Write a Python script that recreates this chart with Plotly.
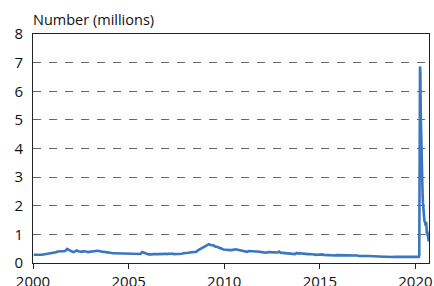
import plotly.graph_objects as go
import datetime as dt

# Initial jobless claims, monthly averages (thousands), 2000-2019
years = list(range(2000, 2020))
monthly_claims = [
    [290, 285, 280, 275, 280, 290, 300, 310, 310, 315, 330, 340],  # 2000
    [350, 360, 375, 400, 410, 400, 410, 410, 430, 490, 450, 430],  # 2001
    [400, 380, 420, 440, 410, 395, 390, 410, 410, 400, 380, 390],  # 2002
    [390, 405, 420, 440, 425, 420, 400, 395, 390, 380, 360, 360],  # 2003
    [350, 350, 340, 340, 340, 340, 335, 340, 340, 330, 330, 335],  # 2004
    [330, 315, 325, 330, 330, 330, 315, 315, 380, 355, 320, 320],  # 2005
    [300, 290, 300, 310, 320, 310, 310, 315, 315, 310, 320, 320],  # 2006
    [310, 330, 315, 330, 310, 310, 305, 320, 315, 325, 340, 340],  # 2007
    [330, 355, 370, 370, 370, 385, 390, 440, 475, 480, 520, 550],  # 2008
    [590, 640, 660, 630, 620, 610, 570, 570, 540, 530, 500, 470],  # 2009
    [460, 470, 450, 450, 450, 460, 460, 480, 460, 445, 430, 420],  # 2010
    [420, 400, 390, 420, 420, 420, 410, 410, 410, 400, 395, 380],  # 2011
    [370, 355, 360, 380, 375, 385, 370, 370, 370, 365, 400, 360],  # 2012
    [355, 350, 345, 345, 350, 345, 340, 330, 310, 350, 330, 340],  # 2013
    [330, 335, 320, 310, 310, 315, 300, 300, 295, 285, 295, 295],  # 2014
    [295, 300, 285, 280, 280, 275, 270, 275, 270, 260, 275, 275],  # 2015
    [280, 270, 260, 260, 265, 265, 260, 265, 255, 255, 255, 260],  # 2016
    [245, 240, 245, 240, 235, 245, 245, 240, 260, 230, 240, 235],  # 2017
    [230, 225, 225, 225, 220, 220, 215, 210, 205, 210, 220, 220],  # 2018
    [215, 225, 215, 210, 215, 220, 210, 215, 215, 215, 220, 225],  # 2019
]

# 2020 weekly claims (thousands)
weeks_2020 = ["2020-01-04", "2020-01-11", "2020-01-18", "2020-01-25", "2020-02-01",
              "2020-02-08", "2020-02-15", "2020-02-22", "2020-02-29", "2020-03-07",
              "2020-03-14", "2020-03-21", "2020-03-28", "2020-04-04", "2020-04-11",
              "2020-04-18", "2020-04-25", "2020-05-02", "2020-05-09", "2020-05-16",
              "2020-05-23", "2020-05-30", "2020-06-06", "2020-06-13", "2020-06-20",
              "2020-06-27", "2020-07-04", "2020-07-11", "2020-07-18", "2020-07-25",
              "2020-08-01", "2020-08-08", "2020-08-15", "2020-08-22", "2020-08-29",
              "2020-09-05", "2020-09-12"]
weekly_claims_2020 = [220, 215, 210, 215, 215, 205, 210, 220, 220, 215,
                      250, 2920, 6867, 6615, 5237, 4442, 3867, 3176, 2849, 2446,
                      2126, 1897, 1566, 1540, 1482, 1437, 1408, 1307, 1422, 1435,
                      1187, 971, 1106, 1011, 950, 860, 750]

dates = []
values = []
for y, row in zip(years, monthly_claims):
    for m, v in enumerate(row, start=1):
        dates.append(dt.date(y, m, 15))
        values.append(v / 1000)
for d, v in zip(weeks_2020, weekly_claims_2020):
    dates.append(dt.date.fromisoformat(d))
    values.append(v / 1000)

fig = go.Figure()
fig.add_trace(go.Scatter(x=dates, y=values, mode="lines",
                         line=dict(color="#3b76c0", width=2.6)))

font = "Open Sans, Noto Sans, sans-serif"
fig.update_layout(
    width=434, height=286,
    margin=dict(l=33, r=5, t=34, b=23),
    paper_bgcolor="white", plot_bgcolor="white",
    showlegend=False,
    font=dict(family=font, size=15, color="#111"),
    annotations=[dict(text="Number (millions)", x=0, y=1, xref="paper", yref="paper",
                      xanchor="left", yanchor="bottom", yshift=3, xshift=-2,
                      showarrow=False,
                      font=dict(family=font, size=14.5, color="#111"))],
)
fig.update_xaxes(
    type="date", range=["2000-01-01", "2020-09-16"], automargin=False,
    tickvals=["2000-01-01", "2005-01-01", "2010-01-01", "2015-01-01", "2020-01-01"],
    ticktext=["2000", "2005", "2010", "2015", "2020"],
    ticks="outside", ticklen=5, tickcolor="#222", tickwidth=1,
    showline=True, linecolor="#222", linewidth=1, mirror=True,
    showgrid=False, zeroline=False,
    tickfont=dict(size=15),
)
fig.update_yaxes(
    range=[0, 8], tickvals=list(range(0, 9)), automargin=False,
    showline=True, linecolor="#222", linewidth=1, mirror=True,
    showgrid=True, gridcolor="#666", griddash="8px,8px", gridwidth=1,
    zeroline=False, ticks="", ticklabelstandoff=6,
    tickfont=dict(size=15),
)
fig.write_html("out.html", config={"displayModeBar": False},
               post_script="document.body.style.margin='0';document.body.style.overflow='hidden';")
